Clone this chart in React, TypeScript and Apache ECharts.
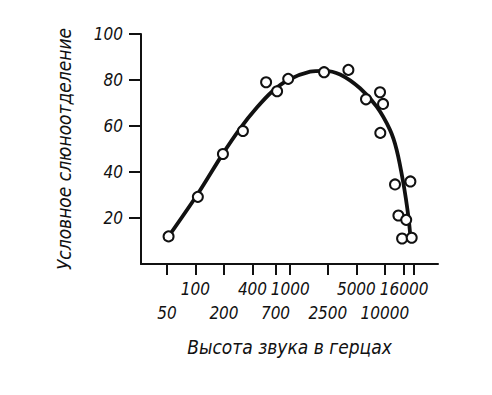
import React, { useEffect, useRef } from "react";
import * as echarts from "echarts";

const tickFreqs = [50, 100, 200, 400, 700, 1000, 2500, 5000, 10000, 16000, 20000];
const upperLabels = [100, 400, 1000, 5000, 16000];
const lowerLabels = [50, 200, 700, 2500, 10000, 20000];
const yTicks = [20, 40, 60, 80, 100];

const curveFreq = [52, 104, 195, 297, 445, 646, 953, 1625, 2280, 3370, 5470, 8200, 11330, 13330, 15670, 17700, 18740];
const curveVal = [12, 30, 48, 59, 68, 75, 80, 83.6, 84, 82.4, 76.4, 68.4, 58.3, 49.6, 35.2, 20.7, 10.6];

const pointFreq = [52, 106, 195, 317, 557, 728, 953, 2280, 4120, 6320, 8890, 9570, 8950, 12800, 18600, 13900, 16800, 15200, 19200];
const pointVal = [12, 29.2, 47.8, 57.8, 79, 75.1, 80.5, 83.4, 84.4, 71.6, 74.7, 69.6, 57, 34.6, 35.9, 21.1, 19.2, 11.1, 11.4];

const FONT = "'Liberation Sans Narrow', 'DejaVu Sans Condensed', 'Roboto', sans-serif";
const INK = "#111";

export default function App() {
  const ref = useRef<HTMLDivElement>(null);
  useEffect(() => {
    if (!ref.current) return;
    const chart = echarts.init(ref.current, null, { renderer: "svg" });
    const lg = (f: number) => Math.log10(f);
    const xMin = lg(26.6);
    const xMax = lg(36400);
    const fmt = (v: number) => String(Math.round(Math.pow(10, v)));
    const labelStyle = {
      fontFamily: FONT,
      fontStyle: "italic" as const,
      fontSize: 17,
      color: INK,
    };
    chart.setOption({
      animation: false,
      backgroundColor: "#fff",
      grid: { left: 141, right: 54, top: 34, bottom: 131, containLabel: false },
      xAxis: [
        {
          type: "value",
          min: xMin,
          max: xMax,
          position: "bottom",
          splitLine: { show: false },
          axisLine: { show: true, lineStyle: { color: INK, width: 2 } },
          axisTick: {
            show: true,
            inside: false,
            length: 11,
            lineStyle: { color: INK, width: 2 },
            customValues: tickFreqs.map(lg),
          },
          axisLabel: {
            ...labelStyle,
            margin: 16,
            customValues: upperLabels.map(lg),
            formatter: fmt,
          },
          name: "Высота звука в герцах",
          nameLocation: "middle",
          nameGap: 73,
          nameTextStyle: { ...labelStyle, fontSize: 19 },
        },
        {
          type: "value",
          min: xMin,
          max: xMax,
          position: "bottom",
          offset: 24,
          splitLine: { show: false },
          axisLine: { show: false },
          axisTick: { show: false },
          axisLabel: {
            ...labelStyle,
            margin: 16,
            customValues: lowerLabels.map(lg),
            formatter: fmt,
          },
        },
      ],
      yAxis: {
        type: "value",
        min: 0,
        max: 100,
        interval: 20,
        splitLine: { show: false },
        axisLine: { show: true, lineStyle: { color: INK, width: 2 } },
        axisTick: {
          show: true,
          length: 12,
          lineStyle: { color: INK, width: 2 },
          customValues: yTicks,
        },
        axisLabel: { ...labelStyle, margin: 18, customValues: yTicks },
        name: "Условное слюноотделение",
        nameLocation: "middle",
        nameGap: 68,
        nameTextStyle: { ...labelStyle, fontSize: 19 },
      },
      series: [
        {
          type: "line",
          xAxisIndex: 0,
          data: curveFreq.map((f, i) => [lg(f), curveVal[i]]),
          smooth: 0.3,
          showSymbol: false,
          lineStyle: { color: INK, width: 3.8 },
          z: 2,
        },
        {
          type: "scatter",
          xAxisIndex: 0,
          data: pointFreq.map((f, i) => [lg(f), pointVal[i]]),
          symbol: "circle",
          symbolSize: 10,
          itemStyle: { color: "#fff", borderColor: INK, borderWidth: 2, opacity: 1 },
          z: 3,
        },
      ],
    });
    return () => chart.dispose();
  }, []);
  return (
    <div
      ref={ref}
      style={{ position: "fixed", left: 0, top: 0, width: 492, height: 395 }}
    />
  );
}
